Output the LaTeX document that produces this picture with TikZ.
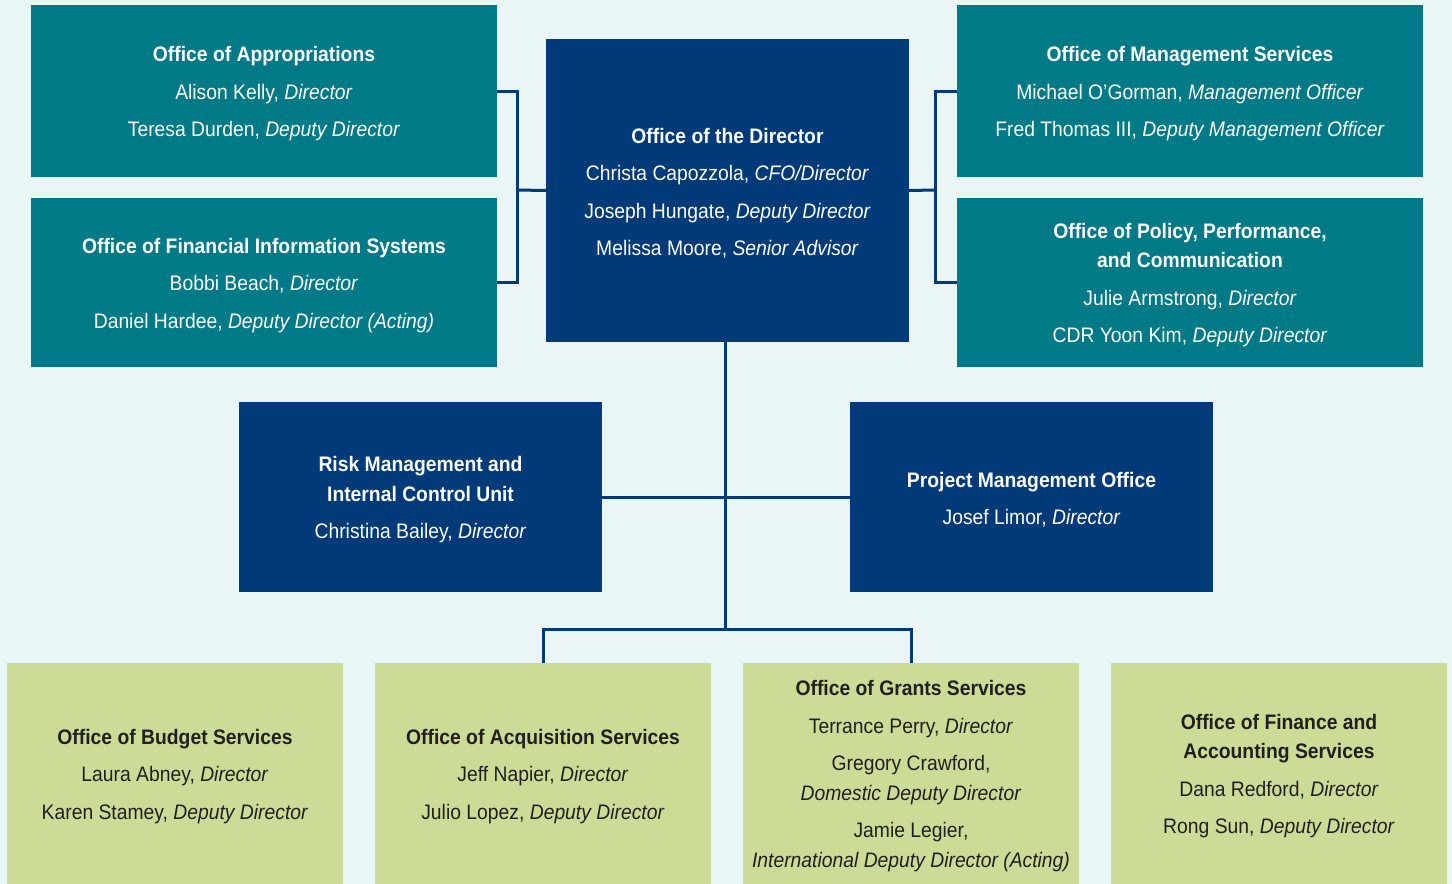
\documentclass[tikz,border=0pt]{standalone}
\usepackage{fontspec}
\setmainfont{Liberation Sans}[FakeStretch=0.92]
\definecolor{bg}{RGB}{234,245,246}
\definecolor{navy}{RGB}{0,58,120}
\definecolor{teal}{RGB}{0,122,135}
\definecolor{lgreen}{RGB}{203,220,151}
\definecolor{ink}{RGB}{35,31,32}
\tikzset{
  box/.style={rectangle, inner sep=0pt, outer sep=0pt, align=center,
    font=\fontsize{21}{29.5}\selectfont},
  tealbox/.style={box, fill=teal, text=white, minimum width=466pt, minimum height=172pt},
  navybox/.style={box, fill=navy, text=white, minimum width=363pt},
  greenbox/.style={box, fill=lgreen, text=ink, minimum width=336pt, minimum height=221pt},
  conn/.style={draw=navy, line width=3pt}
}
\newcommand{\ttl}[1]{\rule{0pt}{20.5pt}\textbf{#1}}
\begin{document}
\begin{tikzpicture}[x=1pt,y=-1pt]
\fill[bg] (0,0) rectangle (1452,884);
\useasboundingbox (0,0) rectangle (1452,884);
% top left
\node[tealbox] (app) at (264,91) {\ttl{Office of Appropriations}\\[8pt]Alison Kelly, \textit{Director}\\[8pt]Teresa Durden, \textit{Deputy Director}};
\node[tealbox, minimum height=169pt] (fis) at (264,282.5) {\ttl{Office of Financial Information Systems}\\[8pt]Bobbi Beach, \textit{Director}\\[8pt]Daniel Hardee, \textit{Deputy Director (Acting)}};
% director
\node[navybox, minimum height=303pt] (dir) at (727.5,190.5) {\ttl{Office of the Director}\\[8pt]Christa Capozzola, \textit{CFO/Director}\\[8pt]Joseph Hungate, \textit{Deputy Director}\\[8pt]Melissa Moore, \textit{Senior Advisor}};
% top right
\node[tealbox] (oms) at (1190,91) {\ttl{Office of Management Services}\\[8pt]Michael O’Gorman, \textit{Management Officer}\\[8pt]Fred Thomas III, \textit{Deputy Management Officer}};
\node[tealbox, minimum height=169pt] (ppc) at (1190,282.5) {\ttl{Office of Policy, Performance,}\\\ttl{and Communication}\\[8pt]Julie Armstrong, \textit{Director}\\[8pt]CDR Yoon Kim, \textit{Deputy Director}};
% middle
\node[navybox, minimum height=190pt] (risk) at (420.5,497) {\ttl{Risk Management and}\\\ttl{Internal Control Unit}\\[8pt]Christina Bailey, \textit{Director}};
\node[navybox, minimum height=190pt] (pmo) at (1031.5,497) {\ttl{Project Management Office}\\[8pt]Josef Limor, \textit{Director}};
% bottom
\node[greenbox] (obs) at (175,773.5) {\ttl{Office of Budget Services}\\[8pt]Laura Abney, \textit{Director}\\[8pt]Karen Stamey, \textit{Deputy Director}};
\node[greenbox] (oas) at (543,773.5) {\ttl{Office of Acquisition Services}\\[8pt]Jeff Napier, \textit{Director}\\[8pt]Julio Lopez, \textit{Deputy Director}};
\node[greenbox] (ogs) at (911,773.5) {\ttl{Office of Grants Services}\\[8pt]Terrance Perry, \textit{Director}\\[8pt]Gregory Crawford,\\\textit{Domestic Deputy Director}\\[8pt]Jamie Legier,\\\textit{International Deputy Director (Acting)}};
\node[greenbox] (ofa) at (1279,773.5) {\ttl{Office of Finance and}\\\ttl{Accounting Services}\\[8pt]Dana Redford, \textit{Director}\\[8pt]Rong Sun, \textit{Deputy Director}};
% connectors
\coordinate (lb) at (517,190);
\coordinate (rb) at (935,190);
\coordinate (bus) at (725,629);
\draw[conn] (app.east) -| (lb) |- (fis.east);
\draw[conn] (lb) -- (dir.west);
\draw[conn] (oms.west) -| (rb) |- (ppc.west);
\draw[conn] (rb) -- (dir.east);
\draw[conn] (bus |- dir.south) -- (bus);
\draw[conn] (risk.east) -- (pmo.west);
\draw[conn] (oas.north) |- (bus) -| (ogs.north);
\end{tikzpicture}
\end{document}
